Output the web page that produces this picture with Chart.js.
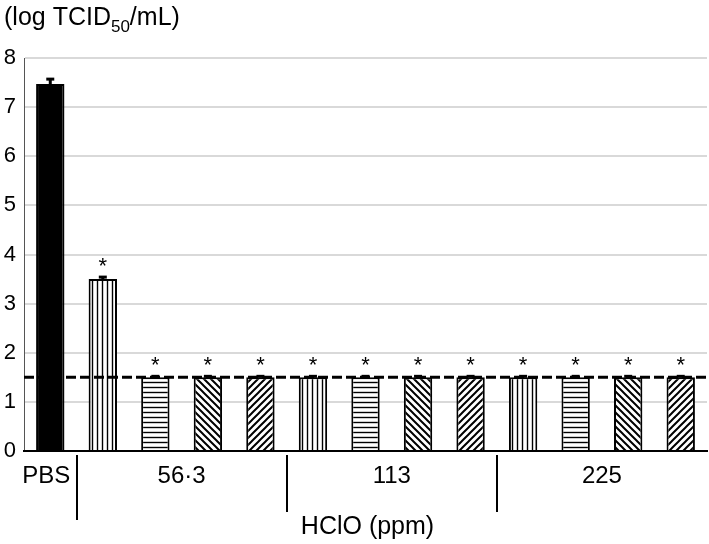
<!DOCTYPE html>
<html>
<head>
<meta charset="utf-8">
<script src="https://cdn.jsdelivr.net/npm/chart.js@4.4.0/dist/chart.umd.min.js"></script>
<style>
  body { margin: 0; background: #fff; }
</style>
</head>
<body>
<canvas id="titer_chart" width="709" height="544"></canvas>
<script>
// one bar per treatment, grouped by HClO concentration
var categories = ['PBS',
    '56·3 a', '56·3 b', '56·3 c', '56·3 d',
    '113 a', '113 b', '113 c', '113 d',
    '225 a', '225 b', '225 c', '225 d'];
var groupLabels = ['PBS', '56·3', '113', '225'];
var groupOf = [0, 1, 1, 1, 1, 2, 2, 2, 2, 3, 3, 3, 3];
var titers = [7.47, 3.5, 1.5, 1.5, 1.5, 1.5, 1.5, 1.5, 1.5, 1.5, 1.5, 1.5, 1.5];
var errors = [0.1, 0.04, 0.02, 0.02, 0.02, 0.02, 0.02, 0.02, 0.02, 0.02, 0.02, 0.02, 0.02];
var fills = ['solid',
    'vertical', 'horizontal', 'backslash', 'slash',
    'vertical', 'horizontal', 'backslash', 'slash',
    'vertical', 'horizontal', 'backslash', 'slash'];
var significant = [false, true, true, true, true, true, true, true, true, true, true, true, true];
var detectionLimit = 1.5;
var yTicks = [0, 1, 2, 3, 4, 5, 6, 7, 8];
var yTitle = ['(log TCID', '50', '/mL)'];
var xTitle = 'HClO (ppm)';

var FONT = '"Liberation Sans", Arial, sans-serif';

function makePattern(kind){
    if (kind == 'solid') return '#000';
    var c = document.createElement('canvas');
    var s = (kind == 'vertical' || kind == 'horizontal') ? 5 : 7;
    c.width = s; c.height = s;
    var g = c.getContext('2d');
    g.fillStyle = '#fff';
    g.fillRect(0, 0, s, s);
    g.strokeStyle = '#000';
    g.beginPath();
    if (kind == 'vertical'){
        g.lineWidth = 1.4;
        g.moveTo(2.5, 0); g.lineTo(2.5, s);
    } else if (kind == 'horizontal'){
        g.lineWidth = 1.4;
        g.moveTo(0, 2.5); g.lineTo(s, 2.5);
    } else if (kind == 'slash'){
        g.lineWidth = 2;
        g.moveTo(-1, s + 1); g.lineTo(s + 1, -1);
        g.moveTo(-1, 1); g.lineTo(1, -1);
        g.moveTo(s - 1, s + 1); g.lineTo(s + 1, s - 1);
    } else {
        g.lineWidth = 2;
        g.moveTo(-1, -1); g.lineTo(s + 1, s + 1);
        g.moveTo(s - 1, -1); g.lineTo(s + 1, 1);
        g.moveTo(-1, s - 1); g.lineTo(1, s + 1);
    }
    g.stroke();
    return g.createPattern(c, 'repeat');
}

var extras = {
    id: 'extras',
    afterDatasetsDraw: function(chart){
        var ctx = chart.ctx;
        var y = chart.scales.y;
        var area = chart.chartArea;
        var bars = chart.getDatasetMeta(0).data;
        ctx.save();
        // error bars
        ctx.strokeStyle = '#000';
        bars.forEach(function(bar, i){
            if (!errors[i]) return;
            var top = y.getPixelForValue(titers[i] + errors[i]);
            ctx.lineWidth = 3;
            ctx.beginPath();
            ctx.moveTo(bar.x, bar.y);
            ctx.lineTo(bar.x, top);
            ctx.stroke();
            ctx.beginPath();
            ctx.moveTo(bar.x - 4, top);
            ctx.lineTo(bar.x + 4, top);
            ctx.stroke();
        });
        // detection limit
        var ly = y.getPixelForValue(detectionLimit);
        ctx.lineWidth = 3;
        ctx.setLineDash([10, 4]);
        ctx.beginPath();
        ctx.moveTo(area.left, ly);
        ctx.lineTo(area.right + 2, ly);
        ctx.stroke();
        ctx.setLineDash([]);
        // asterisks
        ctx.fillStyle = '#000';
        ctx.font = '22px ' + FONT;
        ctx.textAlign = 'center';
        ctx.textBaseline = 'alphabetic';
        bars.forEach(function(bar, i){
            if (!significant[i]) return;
            var top = y.getPixelForValue(titers[i] + errors[i]);
            ctx.fillText('*', bar.x, top - 4);
        });
        ctx.restore();
    },
    afterDraw: function(chart){
        var ctx = chart.ctx;
        var x = chart.scales.x;
        var area = chart.chartArea;
        ctx.save();
        ctx.fillStyle = '#000';
        ctx.strokeStyle = '#000';
        // group separators under the axis
        ctx.lineWidth = 2;
        [0, 4, 8].forEach(function(i, k){
            var sx = Math.round((x.getPixelForValue(i) + x.getPixelForValue(i + 1)) / 2);
            ctx.beginPath();
            ctx.moveTo(sx, area.bottom + 4);
            ctx.lineTo(sx, k == 0 ? 520 : 512);
            ctx.stroke();
        });
        // group labels
        ctx.font = '24px ' + FONT;
        ctx.textAlign = 'center';
        ctx.textBaseline = 'alphabetic';
        groupLabels.forEach(function(label, g){
            var idx = [];
            groupOf.forEach(function(v, i){ if (v == g) idx.push(i); });
            var cx = (x.getPixelForValue(idx[0]) + x.getPixelForValue(idx[idx.length - 1])) / 2;
            if (g == 0) cx -= 4;
            ctx.fillText(label, cx, area.bottom + 32);
        });
        // x title
        ctx.font = '25px ' + FONT;
        ctx.fillText(xTitle, (area.left + area.right) / 2 + 2, 534);
        // y title with subscript
        ctx.textAlign = 'left';
        var tx = 4;
        ctx.font = '25px ' + FONT;
        ctx.fillText(yTitle[0], tx, 25);
        tx += ctx.measureText(yTitle[0]).width;
        ctx.font = '17px ' + FONT;
        ctx.fillText(yTitle[1], tx, 32);
        tx += ctx.measureText(yTitle[1]).width;
        ctx.font = '25px ' + FONT;
        ctx.fillText(yTitle[2], tx, 25);
        ctx.restore();
    }
};

var ctx = document.getElementById('titer_chart').getContext('2d');
var myChart = new Chart(ctx, {
    type: 'bar',
    data: {
        labels: categories,
        datasets: [{
            label: 'Virus titer',
            data: titers,
            backgroundColor: fills.map(makePattern),
            borderColor: '#000',
            borderWidth: 2,
            barPercentage: 0.54,
            categoryPercentage: 1
        }]
    },
    options: {
        responsive: false,
        animation: false,
        layout: { padding: { top: 58, right: 2, left: 0, bottom: 0 } },
        scales: {
            y: {
                min: 0,
                max: 8,
                afterFit: function(scale){ scale.width = 24; },
                afterBuildTicks: function(scale){
                    scale.ticks = yTicks.map(function(v){ return { value: v }; });
                },
                grid: { color: '#d9d9d9', lineWidth: 2, drawTicks: false },
                border: { color: '#555', width: 1 },
                ticks: {
                    color: '#000',
                    padding: 8,
                    font: { size: 22, family: FONT }
                }
            },
            x: {
                afterFit: function(scale){ scale.height = 93; },
                grid: { display: false },
                border: { color: '#000', width: 2 },
                ticks: { display: false }
            }
        },
        plugins: {
            legend: { display: false },
            tooltip: { enabled: false }
        }
    },
    plugins: [extras]
});
</script>
</body>
</html>
